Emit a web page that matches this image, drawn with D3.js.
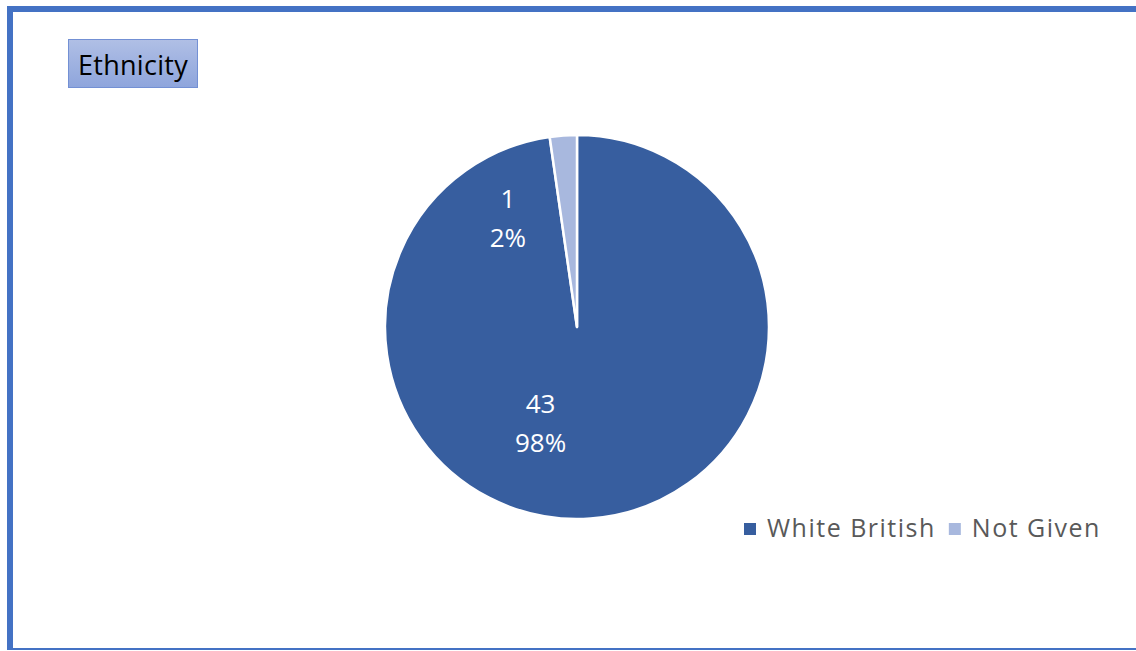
<!DOCTYPE html>
<html>
<head>
<meta charset="utf-8">
<script src="https://cdn.jsdelivr.net/npm/d3@7"></script>
<style>
  html, body { margin: 0; padding: 0; background: #ffffff; }
  svg { display: block; font-family: "Open Sans", "Noto Sans", sans-serif; }
</style>
</head>
<body>
<div id="chart"></div>
<script>
// data
const categories = ["White British", "Not Given"];
const counts = [43, 1];
const percents = ["98%", "2%"];
const colours = ["#375e9f", "#a8b8de"];

const cfg = {
  width: 1136,
  height: 651,
  cx: 577,
  cy: 327,
  radius: 192,
};

const svg = d3.select("#chart")
  .append("svg")
  .attr("width", cfg.width)
  .attr("height", cfg.height)
  .attr("viewBox", [0, 0, cfg.width, cfg.height]);

// frame (blue border, top/left thick, bottom thin)
const frame = svg.append("g").attr("fill", "#4472c4");
frame.append("rect").attr("x", 7).attr("y", 6).attr("width", cfg.width - 7).attr("height", 6);
frame.append("rect").attr("x", 7).attr("y", 6).attr("width", 6).attr("height", 644);
frame.append("rect").attr("x", 7).attr("y", 648).attr("width", cfg.width - 7).attr("height", 2);

// title box
const defs = svg.append("defs");
const grad = defs.append("linearGradient")
  .attr("id", "titleGrad")
  .attr("x1", 0).attr("y1", 0).attr("x2", 0).attr("y2", 1);
grad.append("stop").attr("offset", "0%").attr("stop-color", "#b0bfe5");
grad.append("stop").attr("offset", "100%").attr("stop-color", "#8ea5dc");

svg.append("rect")
  .attr("x", 68.5).attr("y", 39.5)
  .attr("width", 129).attr("height", 48)
  .attr("fill", "url(#titleGrad)")
  .attr("stroke", "#7390d4")
  .attr("stroke-width", 1);

svg.append("text")
  .attr("x", 133).attr("y", 75)
  .attr("text-anchor", "middle")
  .attr("font-size", 27)
  .attr("letter-spacing", 0.3)
  .attr("fill", "#000000")
  .text("Ethnicity");

// pie
const pie = d3.pie().sort(null).value(d => d)(counts);
const arc = d3.arc().innerRadius(0).outerRadius(cfg.radius);

const g = svg.append("g").attr("transform", `translate(${cfg.cx},${cfg.cy})`);

g.selectAll("path")
  .data(pie)
  .join("path")
  .attr("d", arc)
  .attr("fill", (d, i) => colours[i])
  .attr("stroke", "#ffffff")
  .attr("stroke-width", 2.5)
  .attr("stroke-linejoin", "round");

// data labels (Excel "best fit" places them off-centroid)
const labelSpots = [
  { dx: -0.19, dy: 0.45 },
  { dx: -0.36, dy: -0.62 },
];

const labels = g.selectAll("text.dlabel")
  .data(pie)
  .join("text")
  .attr("class", "dlabel")
  .attr("text-anchor", "middle")
  .attr("font-size", 26)
  .attr("fill", "#ffffff")
  .attr("transform", (d, i) =>
    `translate(${labelSpots[i].dx * cfg.radius},${labelSpots[i].dy * cfg.radius})`);

labels.append("tspan").attr("x", 0).attr("y", 0).text(d => d.data);
labels.append("tspan").attr("x", 0).attr("y", 39).text((d, i) => percents[i]);

// legend
const legend = svg.append("g").attr("class", "legend");
let lx = 744;
categories.forEach((name, i) => {
  legend.append("rect")
    .attr("x", lx).attr("y", 523)
    .attr("width", 12).attr("height", 12)
    .attr("fill", colours[i]);
  const t = legend.append("text")
    .attr("x", lx + 23).attr("y", 537)
    .attr("font-size", 25)
    .attr("letter-spacing", 1.5)
    .attr("fill", "#595959")
    .text(name);
  lx = lx + 23 + t.node().getComputedTextLength() + 13;
});
</script>
</body>
</html>
